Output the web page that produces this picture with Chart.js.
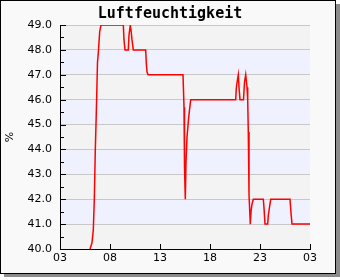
<!DOCTYPE html>
<html>
<head>
<meta charset="utf-8">
<script src="https://cdn.jsdelivr.net/npm/chart.js@4/dist/chart.umd.min.js"></script>
<style>
  body { margin: 0; background: #fff; }
  canvas { display: block; }
</style>
</head>
<body>
<canvas id="chart" width="340" height="280"></canvas>
<script>
// hours since 03:00
const hours = [3.0, 3.2, 3.33, 3.43, 3.53, 3.63, 3.75, 3.83, 3.97, 4.1,
  6.33, 6.4, 6.5, 6.83, 6.9, 7.03, 7.1, 7.2, 7.33, 8.57, 8.63, 8.7, 8.8,
  12.3, 12.4, 12.45, 12.53, 12.6, 12.7, 12.87, 13.07,
  17.57, 17.63, 17.73, 17.83, 17.9, 18.0, 18.35, 18.45, 18.57, 18.7, 18.77, 18.83, 18.9, 19.03, 19.1, 19.2, 19.33,
  20.33, 20.4, 20.5, 20.77, 20.83, 21.07, 23.0, 23.1, 23.2, 25.0];
const humidity = [40.0, 40.25, 40.77, 41.97, 43.98, 45.47, 47.5, 47.88, 48.73, 49.0,
  49.0, 48.4, 48.0, 48.0, 48.6, 49.0, 48.8, 48.4, 48.0, 48.0, 47.47, 47.12, 47.0,
  47.0, 45.7, 43.3, 42.0, 43.5, 44.5, 45.3, 46.0,
  46.0, 46.47, 46.76, 47.0, 46.5, 46.0, 46.0, 46.7, 47.0, 46.5, 46.0, 44.7, 42.2, 41.0, 41.5, 41.8, 42.0,
  42.0, 41.65, 41.0, 41.0, 41.35, 42.0, 42.0, 41.45, 41.0, 41.0];
const xLabels = ['03', '08', '13', '18', '23', '03'];
const yMin = 40, yMax = 49;

const frame = {
  id: 'frame',
  beforeDraw(chart) {
    const c = chart.ctx;
    const a = chart.chartArea;
    const y = chart.scales.y;
    c.save();
    c.fillStyle = '#ffffff';
    c.fillRect(0, 0, 340, 280);
    c.fillStyle = '#8c8c8c';
    c.fillRect(4, 4, 336, 273);
    c.fillStyle = '#f9f9f9';
    c.fillRect(0, 0, 336, 274);
    c.strokeStyle = '#000';
    c.lineWidth = 1;
    c.strokeRect(0.5, 0.5, 335, 273);
    // bands
    for (let v = yMin; v < yMax; v++) {
      const top = y.getPixelForValue(v + 1);
      const bot = y.getPixelForValue(v);
      c.fillStyle = (v % 2 === 0) ? '#f3f3f3' : '#eff2fe';
      c.fillRect(a.left, top, a.right - a.left, bot - top);
    }
    // title
    c.fillStyle = '#000';
    c.font = 'bold 15px "DejaVu Sans Mono"';
    c.textAlign = 'center';
    c.textBaseline = 'middle';
    c.fillText('Luftfeuchtigkeit', 170, 14);
    c.restore();
  },
  afterDraw(chart) {
    const c = chart.ctx;
    const a = chart.chartArea;
    const x = chart.scales.x;
    const y = chart.scales.y;
    c.save();
    c.strokeStyle = '#000';
    c.lineWidth = 1;
    c.beginPath();
    for (let v = yMin; v <= yMax; v += 0.5) {
      const py = Math.round(y.getPixelForValue(v)) + 0.5;
      const len = Number.isInteger(v) ? 6 : 4;
      c.moveTo(a.left, py);
      c.lineTo(a.left + len, py);
    }
    for (let i = 0; i < xLabels.length; i++) {
      const px = Math.round(x.getPixelForValue(i * 5)) + 0.5;
      c.moveTo(px, a.bottom);
      c.lineTo(px, a.bottom - 5);
    }
    c.stroke();
    c.restore();
  }
};

new Chart(document.getElementById('chart').getContext('2d'), {
  type: 'line',
  data: {
    datasets: [{
      data: hours.map((h, i) => ({ x: h, y: humidity[i] })),
      borderColor: '#ff0000',
      borderWidth: 1.5,
      pointRadius: 0,
      tension: 0,
      fill: false
    }]
  },
  options: {
    responsive: false,
    devicePixelRatio: 1,
    animation: false,
    layout: { padding: { left: 0, top: 25, right: 30, bottom: 0 } },
    plugins: { legend: { display: false }, title: { display: false }, tooltip: { enabled: false } },
    scales: {
      x: {
        type: 'linear',
        min: 0,
        max: 25,
        afterFit(scale) { scale.height = 31; },
        grid: { display: false, drawTicks: false },
        border: { display: true, color: '#000', width: 1 },
        ticks: {
          stepSize: 5,
          padding: 3,
          color: '#000',
          font: { family: 'DejaVu Sans', size: 11 },
          maxRotation: 0,
          callback: (v) => xLabels[v / 5]
        }
      },
      y: {
        min: yMin,
        max: yMax,
        afterFit(scale) { scale.width = 60; },
        grid: { color: '#c8c8c8', drawTicks: false },
        border: { display: true, color: '#000', width: 1 },
        title: { display: true, text: '%', color: '#000', font: { family: 'DejaVu Sans', size: 11 }, padding: 4 },
        ticks: {
          stepSize: 1,
          padding: 8,
          color: '#000',
          font: { family: 'DejaVu Sans', size: 11 },
          callback: (v) => v.toFixed(1)
        }
      }
    }
  },
  plugins: [frame]
});
</script>
</body>
</html>
